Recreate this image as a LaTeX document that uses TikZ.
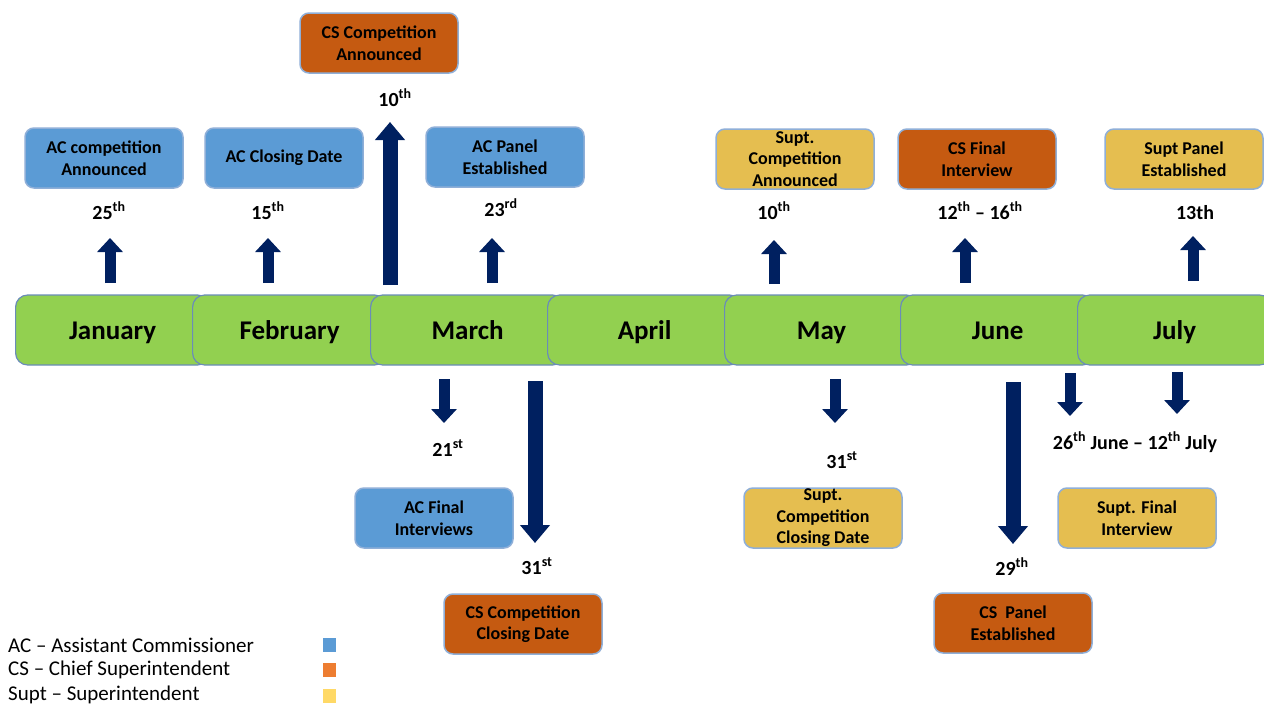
\documentclass[tikz,border=0pt]{standalone}
\usepackage{fontspec}
\setmainfont{Carlito}
\usetikzlibrary{arrows.meta}
\definecolor{navy}{HTML}{002060}
\definecolor{mgreen}{HTML}{92D050}
\definecolor{barline}{HTML}{6A8CB8}
\definecolor{boxline}{HTML}{8FAFD8}
\definecolor{acblue}{HTML}{5B9BD5}
\definecolor{csorange}{HTML}{C55A11}
\definecolor{suptgold}{HTML}{E5BE50}
\definecolor{legorange}{HTML}{ED7D31}
\definecolor{legyellow}{HTML}{FFD966}
\begin{document}
\begin{tikzpicture}[x=1pt,y=-1pt,
  month/.style={draw=barline, line width=1.2pt, fill=mgreen, rounded corners=12pt,
    minimum width=194pt, minimum height=70pt, inner sep=0pt, anchor=west,
    text height=18pt, text depth=0pt,
    font=\fontsize{27}{30}\selectfont\bfseries},
  evbox/.style={draw=boxline, line width=1.5pt, rounded corners=9pt,
    minimum width=158pt, minimum height=60pt, inner sep=0pt, align=center,
    font=\fontsize{18}{21.5}\selectfont\bfseries},
  ac/.style={evbox, fill=acblue},
  cs/.style={evbox, fill=csorange},
  supt/.style={evbox, fill=suptgold},
  datelbl/.style={inner sep=0pt, text height=13pt, text depth=0pt,
    font=\fontsize{20}{22}\selectfont\bfseries},
  legtext/.style={inner sep=0pt, anchor=west, font=\fontsize{21}{24}\selectfont},
  legsq/.style={minimum width=13pt, minimum height=14pt, inner sep=0pt},
  shortarr/.style={draw=navy, line width=11pt, -{Triangle[width=25pt,length=14pt]}},
  longarr/.style={draw=navy, line width=15pt, -{Triangle[width=29pt,length=18pt]}}
]
\useasboundingbox (0,0) rectangle (1264,704);
\fill[white] (0,0) rectangle (1264,704);

% month bar
\begin{scope}
\clip (0,0) rectangle (1264,704);
\node[month] (jan) at (15,330) {January};
\node[month] (feb) at (192,330) {February};
\node[month] (mar) at (370,330) {March};
\node[month] (apr) at (547,330) {April};
\node[month] (may) at (724,330) {May};
\node[month] (jun) at (900,330) {June};
\node[month] (jul) at (1077,330) {July};
\end{scope}

% top event boxes
\node[ac] (acann) at (104,158) {AC competition\\Announced};
\node[ac] (acclose) at (284,158) {AC Closing Date};
\node[cs] (csann) at (379,43) {CS Competition\\Announced};
\node[ac] (acpanel) at (505,157) {AC Panel\\Established};
\node[supt] (suptann) at (795,159) {Supt.\\Competition\\Announced};
\node[cs] (csfinal) at (977,159) {CS Final\\Interview};
\node[supt] (suptpanel) at (1184,159) {Supt Panel\\Established};

% bottom event boxes
\node[ac] (acfinal) at (434,518) {AC Final\\Interviews};
\node[cs] (csclose) at (523,624) {CS Competition\\Closing Date};
\node[supt] (suptclose) at (823,518) {Supt.\\Competition\\Closing Date};
\node[supt] (suptfinal) at (1137,518) {Supt. Final\\Interview};
\node[cs] (cspanel) at (1013,623) {CS\ \ Panel\\Established};

% dates
\node[datelbl] (d1) at (109,213) {25\textsuperscript{th}};
\node[datelbl] (d2) at (268,213) {15\textsuperscript{th}};
\node[datelbl] (d3) at (395,100) {10\textsuperscript{th}};
\node[datelbl] (d4) at (501,210) {23\textsuperscript{rd}};
\node[datelbl] (d5) at (774,213) {10\textsuperscript{th}};
\node[datelbl] (d6) at (980,213) {12\textsuperscript{th} -- 16\textsuperscript{th}};
\node[datelbl] (d7) at (1195,213) {13th};
\node[datelbl] (d8) at (448,450) {21\textsuperscript{st}};
\node[datelbl] (d9) at (537,568) {31\textsuperscript{st}};
\node[datelbl] (d10) at (842,462) {31\textsuperscript{st}};
\node[datelbl] (d11) at (1012,569) {29\textsuperscript{th}};
\node[datelbl] (d12) at (1135,443) {26\textsuperscript{th} June -- 12\textsuperscript{th} July};

% arrow end points
\coordinate (u1a) at (110,283); \coordinate (u1b) at (110,238);
\coordinate (u2a) at (268,283); \coordinate (u2b) at (268,238);
\coordinate (u3a) at (390,285); \coordinate (u3b) at (390,122);
\coordinate (u4a) at (492,283); \coordinate (u4b) at (492,238);
\coordinate (u5a) at (774,284); \coordinate (u5b) at (774,240);
\coordinate (u6a) at (965,283); \coordinate (u6b) at (965,238);
\coordinate (u7a) at (1193,281); \coordinate (u7b) at (1193,236);
\coordinate (w1a) at (444,379); \coordinate (w1b) at (444,423);
\coordinate (w2a) at (535,381); \coordinate (w2b) at (535,543);
\coordinate (w3a) at (835,379); \coordinate (w3b) at (835,423);
\coordinate (w4a) at (1013,382); \coordinate (w4b) at (1013,544);
\coordinate (w5a) at (1070,373); \coordinate (w5b) at (1070,416);
\coordinate (w6a) at (1177,372); \coordinate (w6b) at (1177,414);

\draw[shortarr] (u1a) -- (u1b);
\draw[shortarr] (u2a) -- (u2b);
\draw[longarr] (u3a) -- (u3b);
\draw[shortarr] (u4a) -- (u4b);
\draw[shortarr] (u5a) -- (u5b);
\draw[shortarr] (u6a) -- (u6b);
\draw[shortarr] (u7a) -- (u7b);
\draw[shortarr] (w1a) -- (w1b);
\draw[longarr] (w2a) -- (w2b);
\draw[shortarr] (w3a) -- (w3b);
\draw[longarr] (w4a) -- (w4b);
\draw[shortarr] (w5a) -- (w5b);
\draw[shortarr] (w6a) -- (w6b);

% legend
\node[legtext] (lg1) at (8,645) {AC -- Assistant Commissioner};
\node[legtext] (lg2) at (8,670) {CS -- Chief Superintendent};
\node[legtext] (lg3) at (8,695) {Supt -- Superintendent};
\node[legsq, fill=acblue] (sq1) at (329,645) {};
\node[legsq, fill=legorange] (sq2) at (329,670) {};
\node[legsq, fill=legyellow] (sq3) at (329,696) {};
\end{tikzpicture}
\end{document}
